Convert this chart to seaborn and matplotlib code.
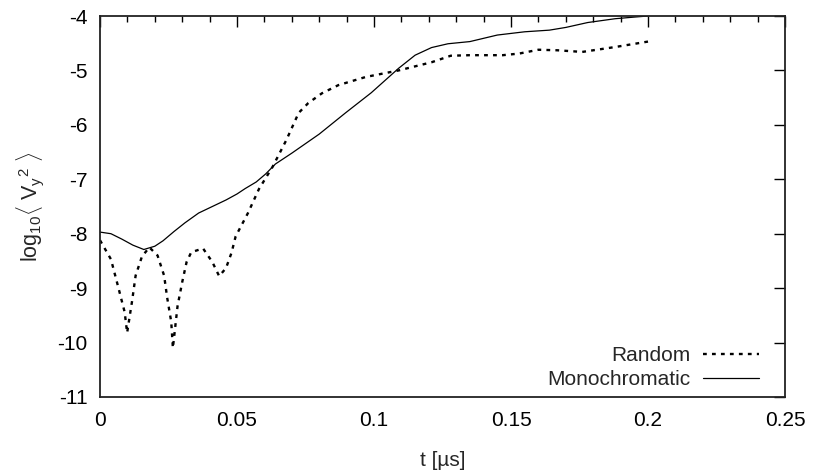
import matplotlib
matplotlib.use("Agg")
import matplotlib.pyplot as plt
from matplotlib.ticker import MultipleLocator
import seaborn as sns
import pandas as pd

# Random excitation
t_random = [0.000, 0.004, 0.0066, 0.009, 0.0099, 0.0117, 0.013, 0.0153, 0.018,
            0.021, 0.0234, 0.0245, 0.026, 0.0266, 0.0283, 0.030, 0.0316, 0.0333,
            0.0376, 0.041, 0.0435, 0.046, 0.048, 0.0495, 0.054, 0.058, 0.063,
            0.068, 0.0725, 0.076, 0.081, 0.087, 0.097, 0.109, 0.121, 0.128,
            0.135, 0.147, 0.153, 0.160, 0.167, 0.176, 0.188, 0.200]
v_random = [-8.12, -8.47, -8.97, -9.44, -9.82, -9.24, -8.77, -8.42, -8.25,
            -8.40, -8.77, -9.17, -9.62, -10.10, -9.33, -8.89, -8.52, -8.34,
            -8.27, -8.52, -8.78, -8.63, -8.35, -8.05, -7.62, -7.18, -6.77,
            -6.28, -5.78, -5.60, -5.42, -5.27, -5.12, -5.00, -4.85, -4.73,
            -4.72, -4.72, -4.69, -4.62, -4.63, -4.66, -4.57, -4.47]

# Monochromatic excitation
t_mono = [0.000, 0.004, 0.008, 0.012, 0.016, 0.020, 0.023, 0.027, 0.031, 0.036,
          0.041, 0.046, 0.050, 0.053, 0.057, 0.0605, 0.064, 0.070, 0.080, 0.0896,
          0.099, 0.109, 0.115, 0.121, 0.127, 0.135, 0.145, 0.155, 0.164, 0.170,
          0.178, 0.188, 0.195, 0.200]
v_mono = [-7.97, -8.00, -8.10, -8.21, -8.29, -8.23, -8.13, -7.96, -7.80, -7.62,
          -7.50, -7.38, -7.27, -7.17, -7.05, -6.90, -6.72, -6.52, -6.17, -5.78,
          -5.41, -4.96, -4.72, -4.58, -4.51, -4.47, -4.35, -4.29, -4.26, -4.21,
          -4.12, -4.05, -4.02, -4.00]

x_ticks = [0, 0.05, 0.1, 0.15, 0.2, 0.25]
x_ticklabels = ["0", "0.05", "0.1", "0.15", "0.2", "0.25"]
y_ticks = [-11, -10, -9, -8, -7, -6, -5, -4]

sns.set_style("white")
plt.rcParams["font.family"] = ["Liberation Sans", "DejaVu Sans"]
plt.rcParams["mathtext.fontset"] = "custom"
plt.rcParams["mathtext.rm"] = "Liberation Sans"
plt.rcParams["mathtext.it"] = "Liberation Sans"

fig = plt.figure(figsize=(8.13, 4.74), dpi=100)
ax = fig.add_axes([100 / 813, 1 - 397 / 474, 685 / 813, 381 / 474])

df_r = pd.DataFrame({"t": t_random, "v": v_random})
df_m = pd.DataFrame({"t": t_mono, "v": v_mono})

sns.lineplot(data=df_r, x="t", y="v", ax=ax, color="black", linewidth=1.7,
             sort=False, label="Random")
sns.lineplot(data=df_m, x="t", y="v", ax=ax, color="black", linewidth=0.9,
             sort=False, label="Monochromatic")
ax.lines[0].set_dashes([1.6, 2.2])

ax.set_xlim(0, 0.25)
ax.set_ylim(-11, -4)
ax.set_xticks(x_ticks)
ax.set_xticklabels(x_ticklabels)
ax.set_yticks(y_ticks)
ax.set_yticklabels([str(v) for v in y_ticks])
ax.xaxis.set_minor_locator(MultipleLocator(0.01))

ax.tick_params(axis="both", which="both", direction="in", top=True, right=True,
               labelsize=15, colors="black")
ax.tick_params(axis="x", which="major", length=8, width=1, pad=10)
ax.tick_params(axis="x", which="minor", length=4, width=1)
ax.tick_params(axis="y", which="major", length=8, width=1, pad=9)

for s in ax.spines.values():
    s.set_color("#222222")
    s.set_linewidth(1.3)

ax.set_xlabel("t [µs]", fontsize=15, labelpad=15)
ax.set_ylabel(r"log$_{10}\langle$ V$_y{}^2$ $\rangle$", fontsize=15.5, labelpad=8)

leg = ax.legend(loc="lower right", bbox_to_anchor=(0.962, 0.02), frameon=False,
                markerfirst=False, fontsize=15, handlelength=2.7,
                handletextpad=0.6, labelspacing=0.25, borderaxespad=0,
                borderpad=0)
leg.get_lines()[0].set_dashes([1.6, 2.2])

fig.savefig("out.png", dpi=100)
